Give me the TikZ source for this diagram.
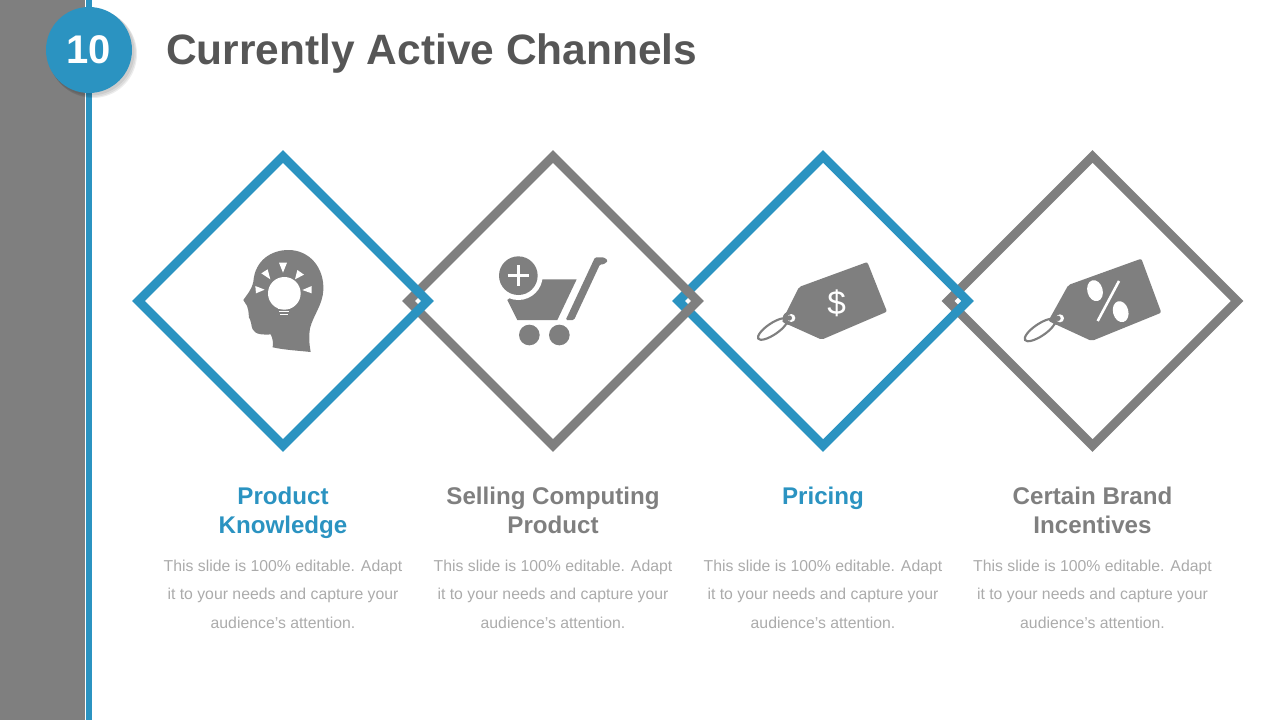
\documentclass[tikz,border=0pt]{standalone}
\usepackage{fontspec}
\setmainfont{Liberation Sans}
\usetikzlibrary{positioning,
  shapes.geometric
}
\definecolor{chanblue}{HTML}{2B93C1}
\definecolor{changray}{HTML}{7F7F7F}
\definecolor{chantitle}{HTML}{565656}
\definecolor{chanbody}{HTML}{ABABAB}
\def\diamondsize{216.9pt}
\def\diamondline{6.75pt}
\tikzset{
  frame/.style={diamond, draw=#1, line width=\diamondline, minimum width=\diamondsize,
    minimum height=\diamondsize, inner sep=0, outer sep=0, aspect=1},
  headline/.style={anchor=north, align=center, text=#1, font=\fontsize{18.1}{21.7}\selectfont\bfseries},
  bodytext/.style={anchor=north, align=center, text=chanbody, font=\fontsize{11.85}{21.4}\selectfont},
  icon/.style={fill=changray, draw=none},
  cutout/.style={fill=white, draw=none},
  glow/.style={fill=black, opacity=0.07}
}

\begin{document}
\begin{tikzpicture}[x=0.75pt, y=-0.75pt]
  \useasboundingbox (0, 0) rectangle (1280, 720);

  % side band
  \fill[changray] (0, 0) rectangle (85, 720);
  \fill[chanblue] (86, 0) rectangle (91.5, 720);

  % number and title
  \fill[glow] (91, 52) circle (43.5);
  \fill[glow] (92, 53) circle (44);
  \fill[glow] (93, 54) circle (44);
  \node[circle, fill=chanblue, minimum size=64.5pt, inner sep=0, text=white,
    font=\fontsize{30}{30}\selectfont\bfseries] (badge) at (89, 50) {10};
  \node[right, text=chantitle, font=\fontsize{31.85}{32}\selectfont\bfseries, inner sep=0] (title) at (166, 54) {Currently Active Channels};

  % frames, last one first so that each lies over the next
  \node[frame=changray] (frame4) at (1092.5, 301) {};
  \node[frame=chanblue] (frame3) at (823, 301) {};
  \node[frame=changray] (frame2) at (553, 301) {};
  \node[frame=chanblue] (frame1) at (283, 301) {};

  % head
  \begin{scope}[shift={(230, 240)}, x=0.25pt, y=-0.25pt]
    \fill[icon] (40, 180) .. controls (50, 165) and (65, 150) .. (70, 125)
      .. controls (75, 60) and (125, 30) .. (175, 30)
      .. controls (240, 30) and (283, 85) .. (280, 150)
      .. controls (278, 195) and (250, 225) .. (240, 265)
      .. controls (236, 290) and (238, 315) .. (242, 336)
      .. controls (205, 332) and (165, 330) .. (128, 322)
      .. controls (130, 305) and (128, 295) .. (122, 283)
      .. controls (105, 285) and (75, 285) .. (68, 268)
      .. controls (62, 255) and (65, 245) .. (60, 238)
      .. controls (52, 230) and (60, 222) .. (55, 212)
      .. controls (56, 200) and (48, 195) .. (40, 180) -- cycle;
    \fill[cutout] (163, 160) circle (49);
    \fill[cutout] (143, 200) rectangle (181, 208);
    \fill[cutout] (146, 212) rectangle (178, 217);
    \fill[cutout] (150, 221) rectangle (174, 226);
    \fill[cutout] (147, 68) -- (171, 68) -- (159, 98) -- cycle;
    \fill[cutout] (94, 100) -- (113, 88) -- (121, 118) -- cycle;
    \fill[cutout] (202, 90) -- (222, 104) -- (195, 118) -- cycle;
    \fill[cutout] (76, 138) -- (104, 149) -- (78, 160) -- cycle;
    \fill[cutout] (245, 138) -- (245, 160) -- (217, 150) -- cycle;
  \end{scope}

  % cart
  \begin{scope}[shift={(400, 245)}, x=0.25pt, y=-0.25pt]
    \fill[icon] (322, 165) -- (400, 103) -- (530, 103) -- (472, 225) -- (352, 225) -- cycle;
    \fill[cutout] (355, 92) circle (73);
    \fill[icon] (355, 92) circle (58);
    \draw[white, line width=2.6pt] (323, 92) -- (387, 92);
    \draw[white, line width=2.6pt] (355, 60) -- (355, 124);
    \fill[icon, rounded corners=1pt] (497, 225) -- (585, 37) -- (612, 37) -- (624, 47) -- (612, 58) -- (600, 58) -- (522, 225) -- cycle;
    \fill[icon] (388, 270) circle (31);
    \fill[icon] (478, 270) circle (31);
  \end{scope}

  % price tag
  \begin{scope}[shift={(670, 250)}, x=0.25pt, y=-0.25pt]
    \fill[icon, rounded corners=1.5pt] (592, 36) -- (651, 185) -- (455, 269) -- (335, 215) -- (387, 111) -- cycle;
    \draw[changray, line width=1.6pt, rotate around={34:(308, 237)}] (308, 237) ellipse (52 and 17);
    \fill[icon] (358, 205) circle (20);
    \fill[cutout] (364, 204) circle (12);
    \fill[icon] (358, 204) circle (8);
    \node[text=white, font=\fontsize{25}{25}\selectfont, inner sep=0] (dollar) at (500, 160) {\$};
  \end{scope}

  % percent tag
  \begin{scope}[shift={(940, 250)}, x=0.25pt, y=-0.25pt]
    \fill[icon, rounded corners=1.5pt] (604, 26) -- (664, 188) -- (455, 273) -- (325, 213) -- (385, 105) -- cycle;
    \draw[changray, line width=1.6pt, rotate around={34:(300, 240)}] (300, 240) ellipse (54 and 18);
    \fill[icon] (353, 205) circle (20);
    \fill[cutout] (360, 205) circle (12);
    \fill[icon] (354, 205) circle (8);
    \fill[cutout, rotate around={15:(465, 122)}] (465, 122) ellipse (23 and 32);
    \fill[cutout, rotate around={15:(542, 185)}] (542, 185) ellipse (23 and 32);
    \draw[white, line width=1.9pt] (537, 93) -- (473, 213);
  \end{scope}

  % labels
  \node[headline=chanblue] (head1) at (283, 482.5) {Product\\Knowledge};
  \node[headline=changray] (head2) at (553, 482.5) {Selling Computing\\Product};
  \node[headline=chanblue] (head3) at (823, 482.5) {Pricing};
  \node[headline=changray] (head4) at (1092.5, 482.5) {Certain Brand\\Incentives};

  \node[bodytext] (body1) at (283, 555) {This slide is 100\% editable. Adapt\\it to your needs and capture your\\audience’s attention.};
  \node[bodytext] (body2) at (553, 555) {This slide is 100\% editable. Adapt\\it to your needs and capture your\\audience’s attention.};
  \node[bodytext] (body3) at (823, 555) {This slide is 100\% editable. Adapt\\it to your needs and capture your\\audience’s attention.};
  \node[bodytext] (body4) at (1092.5, 555) {This slide is 100\% editable. Adapt\\it to your needs and capture your\\audience’s attention.};
\end{tikzpicture}
\end{document}
